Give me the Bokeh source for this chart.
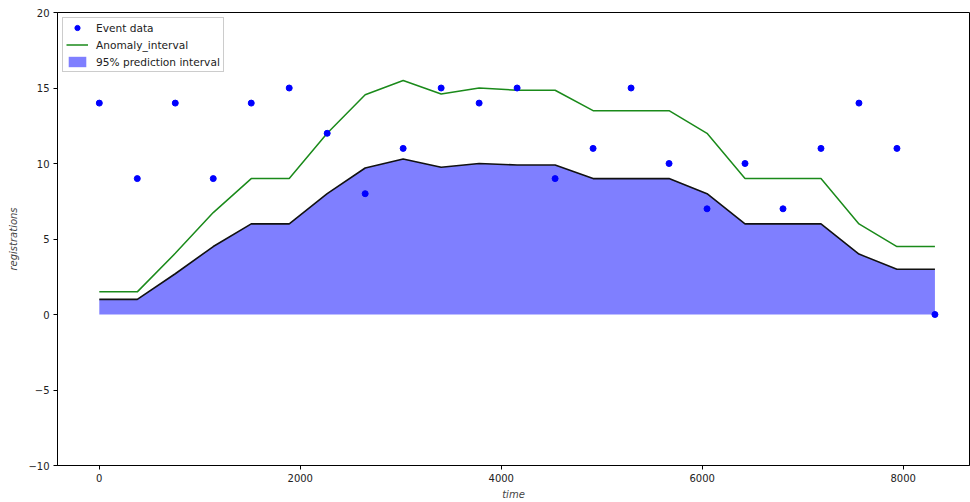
from bokeh.plotting import figure
from bokeh.models import Range1d, FixedTicker, Legend, LegendItem
from bokeh.embed import file_html
from bokeh.resources import INLINE

time = [0, 378, 756, 1134, 1512, 1890, 2268, 2646, 3024, 3402, 3780, 4158,
        4536, 4914, 5292, 5670, 6048, 6426, 6804, 7182, 7560, 7938, 8316]
events = [14, 9, 14, 9, 14, 15, 12, 8, 11, 15, 14, 15, 9, 11, 15, 10, 7, 10, 7, 11, 14, 11, 0]
lower = [1, 1, 2.7, 4.5, 6, 6, 8, 9.7, 10.3, 9.75, 10, 9.9, 9.9, 9, 9, 9, 8, 6, 6, 6, 4, 3, 3]
anomaly = [1.5, 1.5, 4.05, 6.75, 9, 9, 12, 14.55, 15.5, 14.6, 15, 14.85, 14.85,
           13.5, 13.5, 13.5, 12, 9, 9, 9, 6, 4.5, 4.5]
base = [0] * len(time)
x_ticks = [0, 2000, 4000, 6000, 8000]
y_ticks = [-10, -5, 0, 5, 10, 15, 20]

FONT = "DejaVu Sans"

p = figure(width=970, height=502, output_backend="svg", toolbar_location=None,
           x_range=Range1d(-416, 8660), y_range=Range1d(-10, 20),
           min_border_left=57, min_border_right=1, min_border_top=12, min_border_bottom=37)
p.xgrid.visible = False
p.ygrid.visible = False
p.outline_line_color = "black"
p.outline_line_width = 1

band = p.varea(x=time, y1=base, y2=lower, fill_color="blue", fill_alpha=0.5)
p.line(time, lower, line_color="#111111", line_width=1.6)
anom = p.line(time, anomaly, line_color="#1a8a1a", line_width=1.5)
ev = p.scatter(time, events, size=6, fill_color="blue", line_color="blue")

for ax, ticks in ((p.xaxis[0], x_ticks), (p.yaxis[0], y_ticks)):
    ax.ticker = FixedTicker(ticks=ticks)
    ax.minor_tick_line_color = None
    ax.major_tick_out = 4
    ax.major_tick_in = 0
    ax.major_label_text_font = FONT
    ax.major_label_text_font_size = "10px"
    ax.major_label_text_color = "#222222"
    ax.axis_label_text_font = FONT
    ax.axis_label_text_font_size = "10px"
    ax.axis_label_text_font_style = "italic"
    ax.axis_line_color = "black"

p.xaxis[0].axis_label = "time"
p.yaxis[0].axis_label = "registrations"
p.xaxis[0].axis_label_standoff = 4
p.yaxis[0].axis_label_standoff = 6
p.xaxis[0].major_label_standoff = 4
p.yaxis[0].major_label_standoff = 4

legend = Legend(items=[
    LegendItem(label="Event data", renderers=[ev]),
    LegendItem(label="Anomaly_interval", renderers=[anom]),
    LegendItem(label="95% prediction interval", renderers=[band]),
], location="top_left")
legend.label_text_font = FONT
legend.label_text_font_size = "10.6px"
legend.label_text_color = "#222222"
legend.glyph_width = 22
legend.glyph_height = 13
legend.label_height = 13
legend.spacing = 4
legend.padding = 3
legend.margin = 5
legend.border_line_color = "#cccccc"
legend.border_line_alpha = 1
legend.background_fill_alpha = 0.8
legend.label_standoff = 8
p.add_layout(legend)

open("out.html", "w").write(file_html(p, INLINE))
